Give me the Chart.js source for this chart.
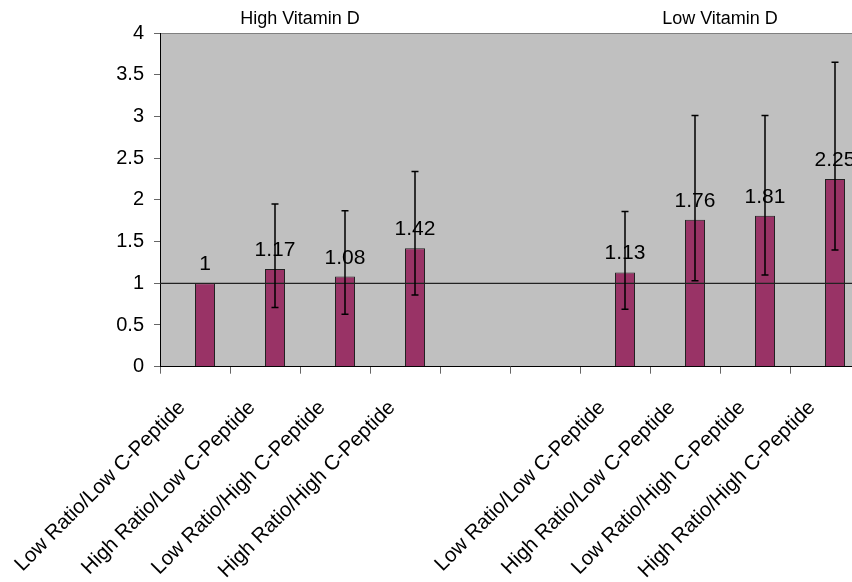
<!DOCTYPE html>
<html>
<head>
<meta charset="utf-8">
<script src="https://cdn.jsdelivr.net/npm/chart.js@4.4.1/dist/chart.umd.min.js"></script>
<style>
  html, body { margin: 0; padding: 0; background: #fff; overflow: hidden; }
  #wrap { width: 900px; height: 582px; }
</style>
</head>
<body>
<div id="wrap"><canvas id="chart" width="900" height="582"></canvas></div>
<script>
// two groups of four, with two empty slots between them
const categories = [
  'Low Ratio/Low C-Peptide', 'High Ratio/Low C-Peptide', 'Low Ratio/High C-Peptide', 'High Ratio/High C-Peptide',
  '', '',
  'Low Ratio/Low C-Peptide', 'High Ratio/Low C-Peptide', 'Low Ratio/High C-Peptide', 'High Ratio/High C-Peptide'
];
const values = [1, 1.17, 1.08, 1.42, null, null, 1.13, 1.76, 1.81, 2.25];
const errLow = [null, 0.71, 0.63, 0.86, null, null, 0.69, 1.03, 1.10, 1.40];
const errHigh = [null, 1.95, 1.87, 2.34, null, null, 1.86, 3.01, 3.01, 3.65];
// empty first series, the real bars sit in the second slot of each category
const spacer = [null, null, null, null, null, null, null, null, null, null];
const groupTitles = ['High Vitamin D', 'Low Vitamin D'];
const groupRanges = [[0, 3], [6, 9]];
const refValue = 1;
const yMin = 0, yMax = 4, yStep = 0.5;

const FONT = '"Liberation Sans", Arial, sans-serif';
Chart.defaults.font.family = FONT;

const decor = {
  id: 'decor',
  beforeDraw(chart) {
    const { ctx, chartArea: a } = chart;
    ctx.save();
    ctx.fillStyle = '#c0c0c0';
    ctx.fillRect(a.left, a.top, a.right - a.left, a.bottom - a.top);
    ctx.strokeStyle = '#808080';
    ctx.lineWidth = 1;
    ctx.beginPath();
    ctx.moveTo(a.left, a.top + 0.5);
    ctx.lineTo(a.right, a.top + 0.5);
    ctx.stroke();
    ctx.restore();
  },
  afterDatasetsDraw(chart) {
    const { ctx, chartArea: a, scales: { x, y } } = chart;
    const meta = chart.getDatasetMeta(1);
    ctx.save();

    // reference line at 1
    const yr = y.getPixelForValue(refValue);
    ctx.strokeStyle = '#222';
    ctx.lineWidth = 1.3;
    ctx.beginPath();
    ctx.moveTo(a.left, yr);
    ctx.lineTo(a.right, yr);
    ctx.stroke();

    // error bars
    ctx.strokeStyle = '#000';
    ctx.lineWidth = 1.5;
    meta.data.forEach((bar, i) => {
      if (errHigh[i] == null) return;
      const top = y.getPixelForValue(errHigh[i]);
      const bot = y.getPixelForValue(errLow[i]);
      ctx.beginPath();
      ctx.moveTo(bar.x, top); ctx.lineTo(bar.x, bot);
      ctx.moveTo(bar.x - 3.5, top); ctx.lineTo(bar.x + 3.5, top);
      ctx.moveTo(bar.x - 3.5, bot); ctx.lineTo(bar.x + 3.5, bot);
      ctx.stroke();
    });

    // value labels
    ctx.fillStyle = '#000';
    ctx.font = '21px ' + FONT;
    ctx.textAlign = 'center';
    ctx.textBaseline = 'alphabetic';
    meta.data.forEach((bar, i) => {
      if (values[i] == null) return;
      ctx.fillText(String(values[i]), bar.x, bar.y - 13);
    });

    // group titles above the plot
    ctx.font = '18px ' + FONT;
    ctx.textBaseline = 'middle';
    groupRanges.forEach(([s, e], k) => {
      const cx = (x.getPixelForValue(s) + x.getPixelForValue(e)) / 2;
      ctx.fillText(groupTitles[k], cx, 19);
    });
    ctx.restore();
  }
};

new Chart(document.getElementById('chart'), {
  type: 'bar',
  data: {
    labels: categories,
    datasets: [
      { data: spacer, backgroundColor: 'transparent', categoryPercentage: 0.5714, barPercentage: 1 },
      { data: values, backgroundColor: '#993366', borderColor: '#222', borderWidth: 1,
        categoryPercentage: 0.5714, barPercentage: 1 }
    ]
  },
  options: {
    responsive: false,
    animation: false,
    layout: { padding: { left: 100, right: 40, top: 33, bottom: 0 } },
    plugins: { legend: { display: false }, tooltip: { enabled: false } },
    scales: {
      x: {
        grid: { drawOnChartArea: false, offset: true, tickLength: 7, color: '#666' },
        border: { color: '#000' },
        ticks: { autoSkip: false, minRotation: 45, maxRotation: 45, color: '#000', font: { size: 20.5 },
                 padding: 22, labelOffset: -13 },
        afterFit: s => { s.height = 215.3; }
      },
      y: {
        min: yMin, max: yMax,
        grid: { drawOnChartArea: false, tickLength: 6, color: '#666' },
        border: { color: '#000' },
        ticks: { stepSize: yStep, color: '#000', font: { size: 20 }, padding: 10,
                 callback: v => String(Number(v.toFixed(1))) },
        afterFit: s => { s.width = 60; }
      }
    }
  },
  plugins: [decor]
});
</script>
</body>
</html>
